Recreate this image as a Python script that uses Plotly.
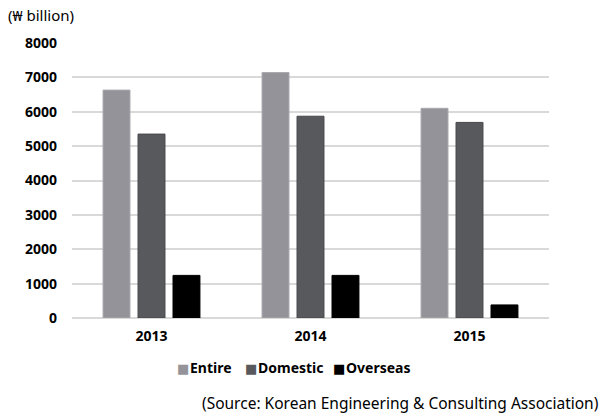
import plotly.graph_objects as go

years = ["2013", "2014", "2015"]
entire = [6630, 7140, 6100]
domestic = [5350, 5870, 5690]
overseas = [1240, 1240, 380]

series = [
    ("Entire", entire, "#949399", "#a9a8ad"),
    ("Domestic", domestic, "#58595d", "#46474b"),
    ("Overseas", overseas, "#000000", "#000000"),
]

FONT = "Noto Sans"

fig = go.Figure()
for name, vals, color, edge in series:
    fig.add_trace(go.Bar(
        x=years, y=vals, name=name, showlegend=False,
        marker=dict(color=color, line=dict(color=edge, width=1)),
    ))

# plot area: 72..549 px wide, 43..318 px tall
L, R, T, B = 72, 52, 43, 98
PW, PH = 601 - L - R, 416 - T - B


def px(x):
    return (x - L) / PW


def py(y):
    return (416 - B - y) / PH


fig.update_layout(
    width=601, height=416,
    margin=dict(l=L, r=R, t=T, b=B),
    paper_bgcolor="white", plot_bgcolor="white",
    barmode="group", bargap=0.34, bargroupgap=0.23,
    font=dict(family=FONT, color="#000000"),
    xaxis=dict(
        showgrid=False, showline=False, ticks="", ticklabelstandoff=8,
        tickfont=dict(family=FONT, size=14, color="#000000", weight="bold"),
    ),
    yaxis=dict(
        range=[0, 8000], dtick=1000, tickformat="d",
        showgrid=True, gridcolor="#d9d9d9", gridwidth=1.5,
        zeroline=True, zerolinecolor="#d9d9d9", zerolinewidth=1.5,
        showline=False, ticks="", ticklabelstandoff=14,
        tickfont=dict(family=FONT, size=14, color="#000000", weight="bold"),
    ),
    showlegend=False,
)

# compact legend row: colored square + bold series name
legend_x = [177, 245, 333]
for (name, _, color, _), lx in zip(series, legend_x):
    fig.add_annotation(
        text="■", xref="paper", yref="paper", x=px(lx - 2), y=py(368),
        xanchor="left", yanchor="middle", showarrow=False,
        font=dict(family="DejaVu Sans", size=13, color=color),
    )
    fig.add_annotation(
        text=f"<b>{name}</b>", xref="paper", yref="paper", x=px(lx + 11),
        y=py(367), xanchor="left", yanchor="middle", showarrow=False,
        font=dict(family=FONT, size=14, color="#000000"),
    )

fig.add_annotation(
    text="(₩ billion)", xref="paper", yref="paper", x=px(6), y=py(15),
    xanchor="left", yanchor="middle", showarrow=False,
    font=dict(family=FONT, size=15, color="#000000"),
)
fig.add_annotation(
    text="(Source: Korean Engineering & Consulting Association)",
    xref="paper", yref="paper", x=px(601), y=py(403), xanchor="right",
    yanchor="middle", showarrow=False,
    font=dict(family=FONT, size=15.5, color="#000000"),
)

fig.write_html("out.html")
